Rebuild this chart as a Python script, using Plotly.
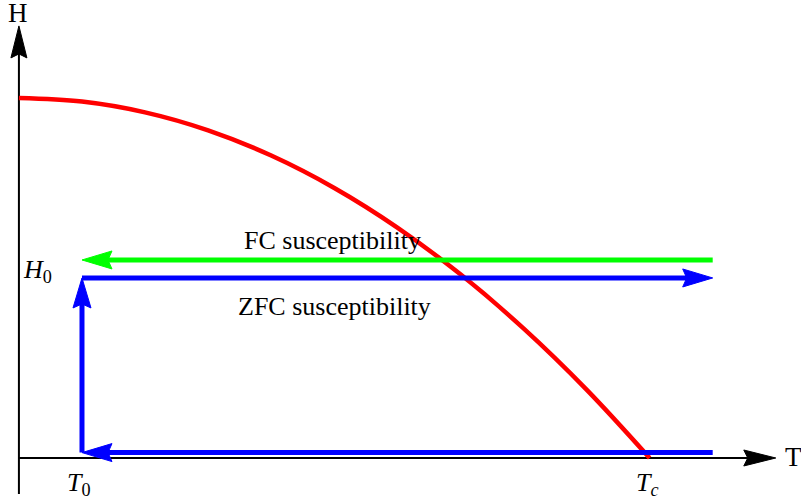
import plotly.graph_objects as go

# ---- data (reduced units: T/Tc, H/Hc) ----
curve_T = [0.0, 0.1, 0.2, 0.3, 0.4, 0.5, 0.6, 0.7, 0.8, 0.9, 1.0]
curve_H = [1.0, 0.99, 0.96, 0.91, 0.84, 0.75, 0.64, 0.51, 0.36, 0.19, 0.0]
T0 = 0.10
Tc = 1.0
H0 = 0.50
H_fc = 0.55
H_low = 0.015
T_end = 1.10
axis_end = 1.20
y_axis_bottom = -0.10

label_text = ["H", "T", "<i>H</i><sub>0</sub>", "<i>T</i><sub>0</sub>", "<i>T</i><sub><i>c</i></sub>",
              "FC susceptibility", "ZFC susceptibility"]
label_T = [-0.002, 1.2274, 0.029, 0.095, 0.997, 0.4976, 0.50]
label_H = [1.236, 0.004, 0.52, -0.072, -0.072, 0.603, 0.42]
label_size = [27, 27, 26, 26, 26, 26, 26]

W, Hpx = 801, 503
xr = [-0.03, 1.24]
yr = [-0.125, 1.272]
sx = W / (xr[1] - xr[0])
sy = Hpx / (yr[1] - yr[0])

fig = go.Figure()


def head(tip, d, L, Wd, notch):
    n = (-d[1], d[0])
    def off(p, ox, oy):
        return (p[0] + ox / sx, p[1] + oy / sy)
    a = off(tip, -L * d[0] + Wd * n[0], -L * d[1] + Wd * n[1])
    b = off(tip, -(L - notch) * d[0], -(L - notch) * d[1])
    c = off(tip, -L * d[0] - Wd * n[0], -L * d[1] - Wd * n[1])
    xs = [tip[0], a[0], b[0], c[0], tip[0]]
    ys = [tip[1], a[1], b[1], c[1], tip[1]]
    return xs, ys, b


def arrow(start, tip, color, width, L=30, Wd=9, notch=4):
    dxp = (tip[0] - start[0]) * sx
    dyp = (tip[1] - start[1]) * sy
    ln = (dxp ** 2 + dyp ** 2) ** 0.5
    d = (dxp / ln, dyp / ln)
    xs, ys, base = head(tip, d, L, Wd, notch)
    fig.add_trace(go.Scatter(x=[start[0], base[0]], y=[start[1], base[1]], mode="lines",
                             line=dict(color=color, width=width), hoverinfo="skip"))
    fig.add_trace(go.Scatter(x=xs, y=ys, mode="lines", fill="toself", fillcolor=color,
                             line=dict(color=color, width=1), hoverinfo="skip"))


# axes
arrow((0, 0), (axis_end, 0), "black", 2, L=32, Wd=8, notch=4)
arrow((0, y_axis_bottom), (0, axis_end), "black", 2, L=32, Wd=8, notch=4)

# red curve
fig.add_trace(go.Scatter(x=curve_T, y=curve_H, mode="lines",
                         line=dict(color="#ff0000", width=4.5, shape="spline"), hoverinfo="skip"))

# FC (green) leftwards
arrow((T_end, H_fc), (T0, H_fc), "#00ff00", 5)
# ZFC path (blue)
arrow((T_end, H_low), (T0, H_low), "#0000ff", 5)
arrow((T0, H_low), (T0, H0), "#0000ff", 5)
arrow((T0, H0), (T_end, H0), "#0000ff", 5)

for t, x, y, s in zip(label_text, label_T, label_H, label_size):
    fig.add_annotation(x=x, y=y, text=t, showarrow=False, xanchor="center", yanchor="middle",
                       font=dict(family="Liberation Serif", size=s, color="black"))

fig.update_layout(
    width=W, height=Hpx, margin=dict(l=0, r=0, t=0, b=0),
    paper_bgcolor="white", plot_bgcolor="white", showlegend=False,
    xaxis=dict(range=xr, visible=False, fixedrange=True),
    yaxis=dict(range=yr, visible=False, fixedrange=True),
)
fig.write_html("out.html", config={"displayModeBar": False},
               post_script="document.body.style.margin='0';document.body.style.overflow='hidden';")
